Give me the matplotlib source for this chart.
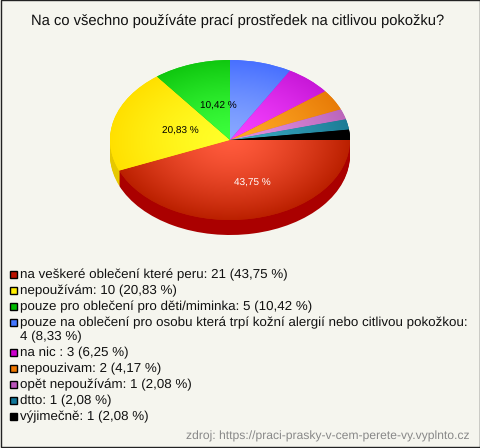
import numpy as np
import matplotlib
matplotlib.use('Agg')
import matplotlib.pyplot as plt
from matplotlib.colors import LinearSegmentedColormap

plt.rcParams['font.family'] = ['Liberation Sans', 'DejaVu Sans']
plt.rcParams['text.hinting'] = 'none'

title = 'Na co všechno používáte prací prostředek na citlivou pokožku?'
source = 'zdroj: https://praci-prasky-v-cem-perete-vy.vyplnto.cz'

# %% data
counts = [21, 10, 5, 4, 3, 2, 1, 1, 1]
percents = ['43,75', '20,83', '10,42', '8,33', '6,25', '4,17', '2,08', '2,08', '2,08']
answers = ['na veškeré oblečení které peru',
           'nepoužívám',
           'pouze pro oblečení pro děti/miminka',
           'pouze na oblečení pro osobu která trpí kožní alergií nebo citlivou pokožkou',
           'na nic ',
           'nepouzivam',
           'opět nepoužívám',
           'dtto',
           'výjimečně']

# colours: centre of the pie, rim of the pie, side wall, legend box
inner = ['#ff5a3c', '#ffff28', '#3cff3c', '#88a8ff', '#f540ff', '#ffa824', '#e090e0', '#38a8c0', '#000000']
outer = ['#bb2000', '#ffe000', '#10c810', '#4870ff', '#c818d8', '#e87c08', '#bb66bb', '#1c7c96', '#000000']
side  = ['#aa0000', '#e6c800', '#0a9a0a', '#3050c0', '#a010a0', '#b86000', '#905090', '#105a70', '#000000']
boxes = ['#bb1100', '#ffee00', '#00bb00', '#4477ff', '#cc00cc', '#ee7700', '#bb55bb', '#117799', '#000000']

bg = '#f5f5ee'
cx, cy, rx, ry, depth = 230, 140, 120, 80, 15

fig = plt.figure(figsize=(4.8, 4.48), dpi=100, facecolor=bg)

# %% pie, one data unit = the radius
ax = fig.add_axes([0, 0, 1, 1])

# side wall: same pie stacked downwards
for d in range(depth, 0, -1):
    ax.pie(counts, startangle=0, counterclock=False, colors=side,
           center=(0, -d / ry), radius=1, wedgeprops={'linewidth': 0})

wedges, _ = ax.pie(counts, startangle=0, counterclock=False, colors=outer,
                   radius=1, wedgeprops={'linewidth': 0})

# radial gradient on every slice
xx, yy = np.meshgrid(np.linspace(-1, 1, 300), np.linspace(-1, 1, 300))
rr = np.clip(np.hypot(xx, yy), 0, 1) ** 1.4
for w, c0, c1 in zip(wedges, inner, outer):
    cmap = LinearSegmentedColormap.from_list('s', [c0, c1])
    im = ax.imshow(rr, extent=(-1, 1, -1, 1), origin='lower', cmap=cmap,
                   vmin=0, vmax=1, aspect='auto', interpolation='bilinear', zorder=3)
    im.set_clip_path(w)

ax.set_aspect('auto')
ax.set_xlim(-cx / rx, (480 - cx) / rx)
ax.set_ylim((cy - 448) / ry, cy / ry)
ax.axis('off')

# %% texts, in pixels
tx = fig.add_axes([0, 0, 1, 1])
tx.set_xlim(0, 480)
tx.set_ylim(448, 0)
tx.axis('off')
tx.patch.set_alpha(0)

tx.text(238, 24.5, title, fontsize=10.65, color='#111111', ha='center', va='baseline')

tx.text(252, 186, percents[0] + ' %', fontsize=7.2, color='white', ha='center', va='baseline')
tx.text(180, 134, percents[1] + ' %', fontsize=7.2, color='black', ha='center', va='baseline')
tx.text(218, 109, percents[2] + ' %', fontsize=7.2, color='black', ha='center', va='baseline')

# legend rows, the fourth one wraps
rows = [274.5, 290.5, 306.5, 322.5, 352.5, 368.5, 384.5, 400.5, 416.5]
for i, y in enumerate(rows):
    tx.add_patch(plt.Rectangle((9.5, y - 3.5), 7, 7, facecolor=boxes[i], edgecolor='black', linewidth=1))
    if i == 3:
        tx.text(20, y + 4, f'{answers[i]}:', fontsize=9.62, color='#111111', ha='left', va='baseline')
        tx.text(20, y + 17.5, f'{counts[i]} ({percents[i]} %)', fontsize=9.62, color='#111111', ha='left', va='baseline')
    else:
        tx.text(20, y + 4, f'{answers[i]}: {counts[i]} ({percents[i]} %)', fontsize=9.62, color='#111111', ha='left', va='baseline')

tx.text(470, 440, source, fontsize=8.7, color='#888888', ha='right', va='baseline')

# image frame
tx.add_patch(plt.Rectangle((0.5, 0.5), 479, 447, facecolor='none', edgecolor='#222222', linewidth=1))

fig.savefig('out.png', dpi=100, facecolor=bg)
